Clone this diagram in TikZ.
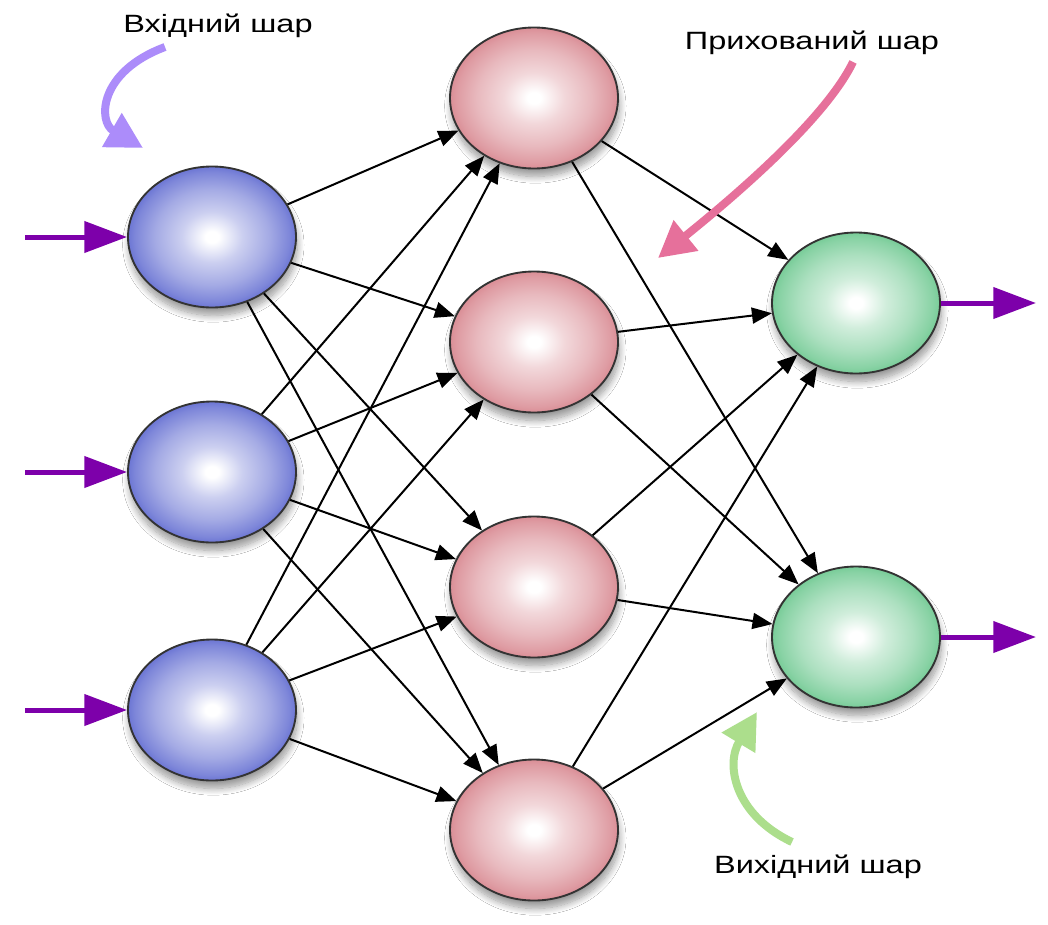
\documentclass[tikz,border=0pt]{standalone}
\usepackage{fontspec}
\setmainfont{Liberation Sans}
\usetikzlibrary{shapes.geometric,arrows.meta,shadows.blur}
\definecolor{nblue}{RGB}{108,118,212}
\definecolor{npink}{RGB}{218,142,150}
\definecolor{ngreen}{RGB}{120,204,152}
\definecolor{arrowpurple}{RGB}{125,0,170}
\definecolor{lavarr}{RGB}{172,140,250}
\definecolor{pinkarr}{RGB}{230,112,155}
\definecolor{greenarr}{RGB}{172,222,140}
\pgfdeclareradialshading{shblue}{\pgfpoint{0bp}{0bp}}{color(0bp)=(white); color(2bp)=(white); color(9bp)=(nblue!35!white); color(17bp)=(nblue!62!white); color(23bp)=(nblue!88!white); color(25bp)=(nblue); color(50bp)=(nblue)}
\pgfdeclareradialshading{shpink}{\pgfpoint{0bp}{0bp}}{color(0bp)=(white); color(2bp)=(white); color(9bp)=(npink!35!white); color(17bp)=(npink!62!white); color(23bp)=(npink!88!white); color(25bp)=(npink); color(50bp)=(npink)}
\pgfdeclareradialshading{shgreen}{\pgfpoint{0bp}{0bp}}{color(0bp)=(white); color(2bp)=(white); color(9bp)=(ngreen!35!white); color(17bp)=(ngreen!62!white); color(23bp)=(ngreen!88!white); color(25bp)=(ngreen); color(50bp)=(ngreen)}
\tikzset{
  neuron/.style={ellipse, draw=black!80, line width=1.4pt, minimum width=126pt, minimum height=105.75pt, inner sep=0pt,
    blur shadow={shadow xshift=1pt, shadow yshift=-6pt, shadow blur radius=5pt, shadow blur steps=12, shadow opacity=40}},
  inneuron/.style={neuron, shading=shblue},
  hidneuron/.style={neuron, shading=shpink},
  outneuron/.style={neuron, shading=shgreen},
  link/.style={line width=1.5pt, black, -{Triangle[length=15pt,width=12pt]}},
  ioarrow/.style={line width=3.75pt, arrowpurple, -{Triangle[length=32pt,width=23pt]}},
  labarrow/.style={line width=6pt, -{Triangle[length=27pt,width=28pt]}},
  labtext/.style={anchor=base, inner sep=0pt, font=\fontsize{18.75}{22}\selectfont}
}
\newcommand{\wide}[1]{\scalebox{1.3}[1]{#1}}
\begin{document}
\begin{tikzpicture}[x=0.75pt,y=-0.75pt]
\useasboundingbox[fill=white] (0,0) rectangle (1048,924);
% nodes
\node[inneuron] (I1) at (212,237) {};
\node[inneuron] (I2) at (212,472) {};
\node[inneuron] (I3) at (212,710) {};
\node[hidneuron] (H1) at (534,98) {};
\node[hidneuron] (H2) at (534,342) {};
\node[hidneuron] (H3) at (534,587) {};
\node[hidneuron] (H4) at (534,830) {};
\node[outneuron] (O1) at (856,303) {};
\node[outneuron] (O2) at (856,637) {};
% links
\foreach \i in {1,2,3}{
  \foreach \h in {1,2,3,4}{
    \draw[link] (I\i) -- (H\h);
  }
}
\foreach \h in {1,2,3,4}{
  \foreach \o in {1,2}{
    \draw[link] (H\h) -- (O\o);
  }
}
% input / output arrows
\coordinate (in1) at (25,237);
\coordinate (in2) at (25,472);
\coordinate (in3) at (25,710);
\coordinate (out1) at (1036,303);
\coordinate (out2) at (1036,637);
\draw[ioarrow] (in1) -- (I1.west);
\draw[ioarrow] (in2) -- (I2.west);
\draw[ioarrow] (in3) -- (I3.west);
\draw[ioarrow] (O1.east) -- (out1);
\draw[ioarrow] (O2.east) -- (out2);
% labels
\node[labtext] (tin) at (218,33) {\wide{Вхідний шар}};
\node[labtext] (thid) at (812,50) {\wide{Прихований шар}};
\node[labtext] (tout) at (818,873) {\wide{Вихідний шар}};
\coordinate (lavs) at (165,47);
\coordinate (lave) at (143,148);
\coordinate (pinks) at (853,62);
\coordinate (pinke) at (658,258);
\coordinate (greens) at (792,842);
\coordinate (greene) at (757,712);
\draw[labarrow, lavarr] (lavs) .. controls (98,72) and (98,122) .. (lave);
\draw[labarrow, pinkarr] (pinks) .. controls (825,120) and (730,200) .. (pinke);
\draw[labarrow, greenarr] (greens) .. controls (735,815) and (725,765) .. (greene);
\end{tikzpicture}
\end{document}
